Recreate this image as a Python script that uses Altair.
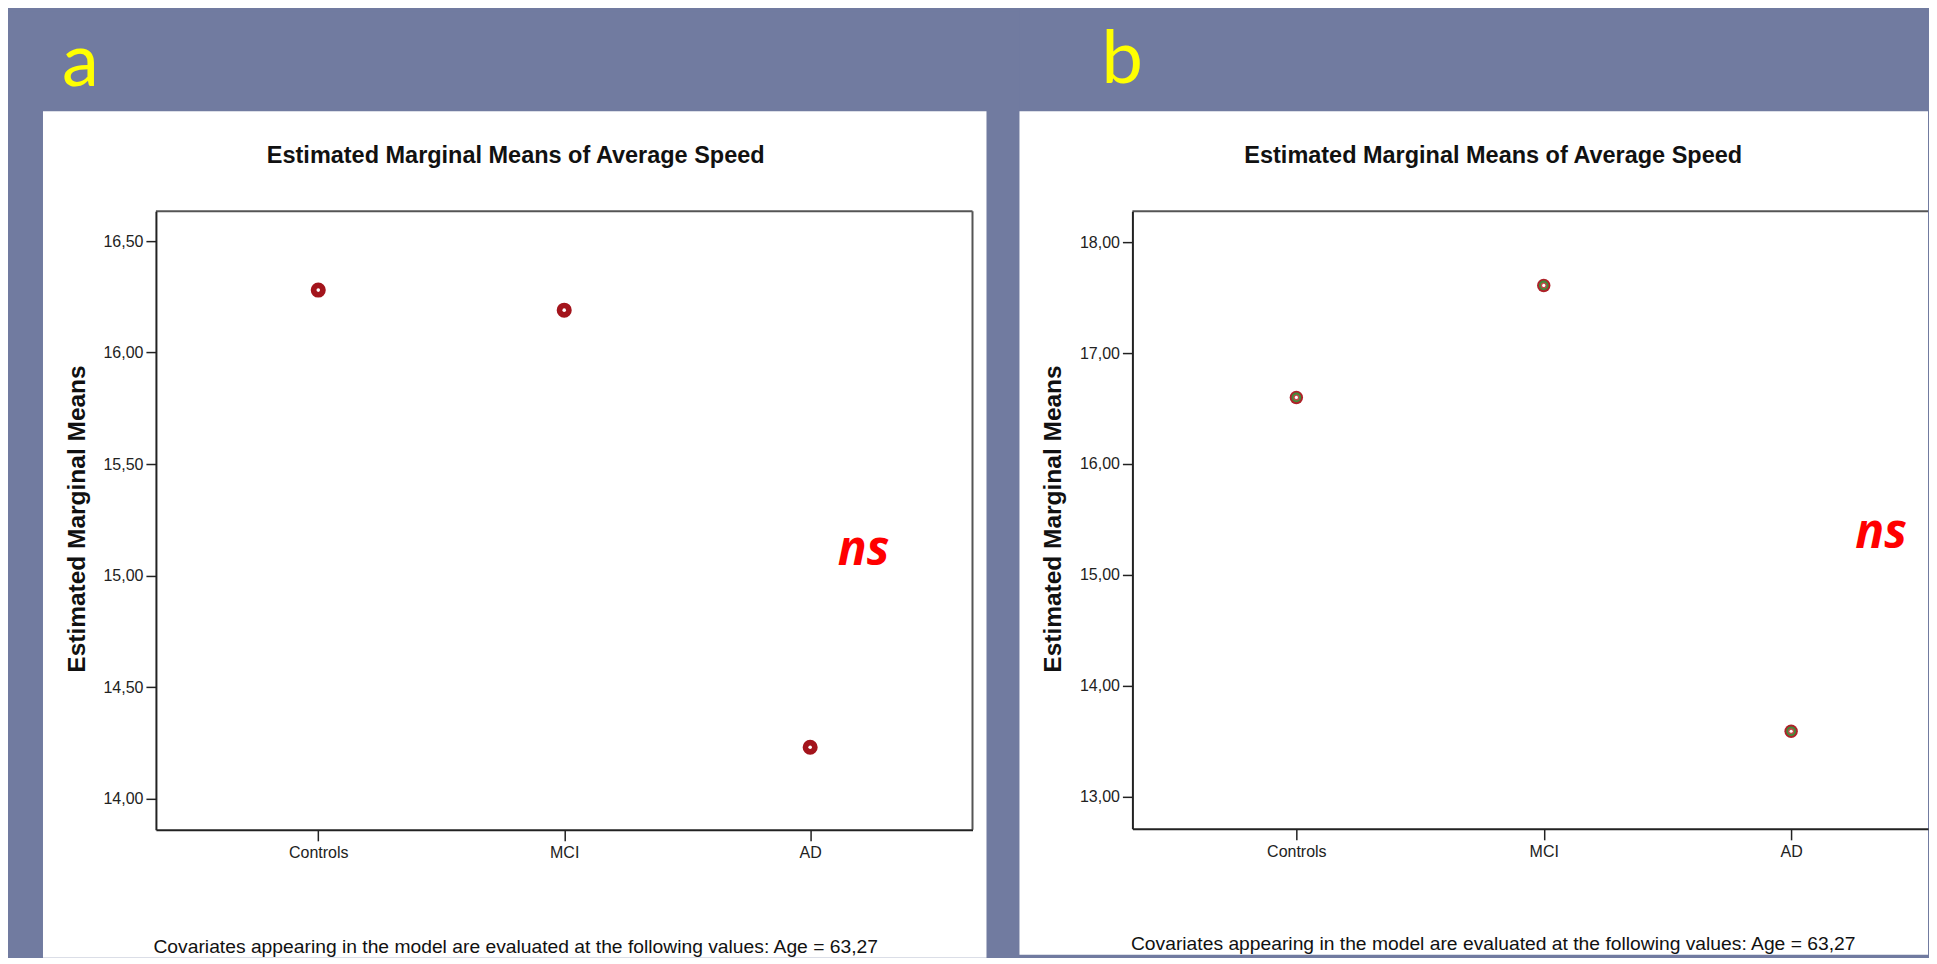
import altair as alt
import pandas as pd

# ---- data ----
groups = ["Controls", "MCI", "AD"]
means_a = [16.28, 16.19, 14.23]
means_b = [16.60, 17.61, 13.59]
ticks_a = [14.0, 14.5, 15.0, 15.5, 16.0, 16.5]
ticks_b = [13.0, 14.0, 15.0, 16.0, 17.0, 18.0]
domain_a = [13.86, 16.634]
domain_b = [12.71, 18.28]
panel_letters = ["a", "b"]
title_text = "Estimated Marginal Means of Average Speed"
y_title = "Estimated Marginal Means"
footnote = "Covariates appearing in the model are evaluated at the following values: Age = 63,27"
annotation = "ns"

SLIDE = "#717BA0"
INK = "#222222"
FRAME = "#555555"
SANS = "Liberation Sans, Arial, sans-serif"
LABEL_EXPR = "replace(format(datum.value, '.2f'), '.', ',')"


def make_panel(letter, means, ticks, domain, W, H, pad, align, geo, markers):
    df = pd.DataFrame({"group": groups, "mean": means})
    one = alt.Chart(pd.DataFrame({"d": [0]}))

    x_enc = alt.X(
        "group:N", sort=groups,
        scale=alt.Scale(type="point", padding=pad, align=align),
        axis=alt.Axis(title=None, labelAngle=0, labelFont=SANS,
                      labelFontSize=16, labelColor=INK, labelPadding=4,
                      tickSize=11, tickColor=INK, tickWidth=1.5,
                      domainColor=INK, domainWidth=2, grid=False, zindex=1),
    )
    y_enc = alt.Y(
        "mean:Q",
        scale=alt.Scale(domain=domain, zero=False, nice=False),
        axis=alt.Axis(title=None, values=ticks, labelExpr=LABEL_EXPR,
                      labelFont=SANS, labelFontSize=16, labelColor=INK,
                      labelPadding=3, tickSize=10, tickColor=INK, tickWidth=1.5,
                      domainColor=INK, domainWidth=2, grid=False, zindex=1),
    )
    base = alt.Chart(df).encode(x=x_enc, y=y_enc)

    layers = [
        one.mark_rect(color=SLIDE).encode(
            x=alt.value(geo["bx0"]), x2=alt.value(geo["bx1"]),
            y=alt.value(geo["by0"]), y2=alt.value(geo["bottom"])),
        one.mark_rect(color="white").encode(
            x=alt.value(geo["wx0"]), x2=alt.value(geo["wx1"]),
            y=alt.value(geo["wy0"]), y2=alt.value(geo["bottom"])),
        one.mark_rule(color=FRAME, strokeWidth=2).encode(
            x=alt.value(0), x2=alt.value(W), y=alt.value(0)),
    ]
    if geo["right_frame"]:
        layers.append(one.mark_rule(color=FRAME, strokeWidth=2).encode(
            x=alt.value(W), y=alt.value(0), y2=alt.value(H)))
    layers += [
        one.mark_text(text=letter, font="Lato", fontSize=74, color="#FFFF00",
                      align="left", baseline="alphabetic").encode(
            x=alt.value(geo["lx"]), y=alt.value(geo["ly"])),
        one.mark_text(text=title_text, font=SANS, fontSize=23.5,
                      fontWeight="bold", color="#111111", align="center",
                      baseline="alphabetic").encode(
            x=alt.value(geo["tx"]), y=alt.value(-48)),
        one.mark_text(text=y_title, font=SANS, fontSize=24.5,
                      fontWeight="bold", color="#111111", angle=270,
                      align="center", baseline="middle").encode(
            x=alt.value(-78), y=alt.value(308)),
        one.mark_text(text=footnote, font=SANS, fontSize=19.3,
                      color="#111111", align="center", baseline="alphabetic").encode(
            x=alt.value(geo["tx"]), y=alt.value(geo["fy"])),
        one.mark_text(text=annotation, font="Open Sans", fontSize=48,
                      fontWeight="bold", fontStyle="italic", color="#FF0000",
                      align="center", baseline="middle").encode(
            x=alt.value(geo["nx"]), y=alt.value(geo["ny"])),
    ]
    for m in markers:
        layers.append(base.mark_point(**m))
    return alt.layer(*layers).properties(width=W, height=H)


markers_a = [
    dict(shape="circle", size=227, filled=True, fill="#A3141C", opacity=1, strokeWidth=0),
    dict(shape="circle", size=13, filled=True, fill="white", opacity=1, strokeWidth=0),
]
markers_b = [
    dict(shape="circle", size=180, filled=True, fill="#AE2229", opacity=1, strokeWidth=0),
    dict(shape="circle", size=62, fill="#C24A4A", stroke="#3E8E3A", strokeWidth=1.8, opacity=1),
    dict(shape="circle", size=10, filled=True, fill="white", opacity=1, strokeWidth=0),
]

Wa, Ha = 817, 619
Wb, Hb = 796, 618

geo_a = dict(bx0=-148, bx1=864, by0=-200, bottom=747, wx0=-113, wx1=831, wy0=-100,
             right_frame=True, lx=-94, ly=-125, tx=360, fy=742, nx=708, ny=340)
geo_b = dict(bx0=-113, bx1=Wb, by0=-203, bottom=744, wx0=-113, wx1=Wb, wy0=-100,
             right_frame=False, lx=-31, ly=-128, tx=361, fy=739, nx=749, ny=323)

pa = make_panel(panel_letters[0], means_a, ticks_a, domain_a, Wa, Ha, 0.66, 0.5, geo_a, markers_a)
pb = make_panel(panel_letters[1], means_b, ticks_b, domain_b, Wb, Hb, 0.608, 0.545, geo_b, markers_b)

chart = (
    alt.hconcat(pa, pb, spacing=0)
    .resolve_scale(x="independent", y="independent")
    .properties(padding=0)
    .configure(background=SLIDE)
    .configure_view(stroke=None)
)

chart.save("out.html", embed_options={"renderer": "svg", "actions": False})
